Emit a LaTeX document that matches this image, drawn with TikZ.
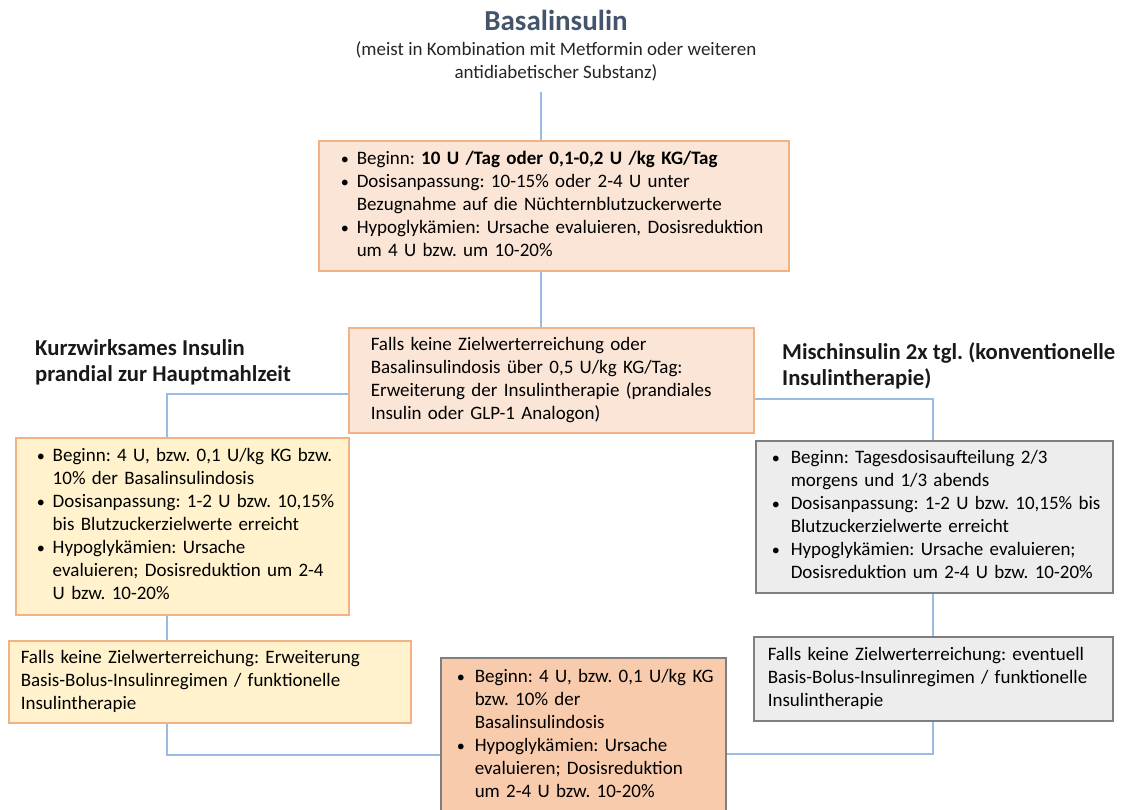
\documentclass[tikz,border=0pt]{standalone}
\usepackage{fontspec}
\setmainfont{Carlito}
\frenchspacing
\definecolor{conncol}{HTML}{9BBBE0}
\definecolor{peachfill}{HTML}{FBE5D6}
\definecolor{orangeline}{HTML}{F4B183}
\definecolor{yellowfill}{HTML}{FFF2CC}
\definecolor{grayfill}{HTML}{EDEDED}
\definecolor{grayline}{HTML}{7F7F7F}
\definecolor{darkfill}{HTML}{F8CBAD}
\definecolor{titlecol}{HTML}{44546A}
\newcommand{\bl}[1]{\makebox[#1][l]{\scalebox{0.85}{•}}}
\tikzset{
  conn/.style={draw=conncol, line width=1.4pt},
  boxbase/.style={rectangle, line width=1.5pt, anchor=north west, inner ysep=0pt,
    font=\fontsize{19}{23}\selectfont\frenchspacing, execute at begin node={\noindent}},
  peachbox/.style={boxbase, draw=orangeline, fill=peachfill},
  yellowbox/.style={boxbase, draw=orangeline, fill=yellowfill},
  graybox/.style={boxbase, draw=grayline, fill=grayfill},
  darkbox/.style={boxbase, draw=grayline, fill=darkfill},
  heading/.style={anchor=west, align=left, inner sep=0pt, font=\bfseries\fontsize{22.7}{26}\selectfont, text=black!90},
}
\begin{document}
\begin{tikzpicture}[x=1pt,y=-1pt]
\useasboundingbox (0,0) rectangle (1122,809);
% title
\node[inner sep=0pt, font=\bfseries\fontsize{29}{32}\selectfont, text=titlecol] (title) at (556,20) {Basalinsulin};
\node[inner sep=0pt, align=center, font=\fontsize{19}{23}\selectfont, text=black!85] (sub) at (556,61)
  {(meist in Kombination mit Metformin oder weiteren\\antidiabetischer Substanz)};
% box 1
\node[peachbox, minimum width=470pt, minimum height=130pt, inner xsep=22pt, text width=426pt] (box1) at (318,140)
 {\begin{tabular}{@{}l@{}l@{}}
  \bl{16pt}&Beginn: \textbf{10 U /Tag oder 0,1-0,2 U /kg KG/Tag}\\
  \bl{16pt}&Dosisanpassung: 10-15\% oder 2-4 U unter\\
  &Bezugnahme auf die Nüchternblutzuckerwerte\\
  \bl{16pt}&Hypoglykämien: Ursache evaluieren, Dosisreduktion\\
  &um 4 U bzw. um 10-20\%
 \end{tabular}};
% box 2
\node[peachbox, minimum width=405pt, minimum height=105pt, inner xsep=22pt, text width=361pt] (box2) at (348,327)
 {\begin{tabular}{@{}l@{}}
  Falls keine Zielwerterreichung oder\\
  Basalinsulindosis über 0,5 U/kg KG/Tag:\\
  Erweiterung der Insulintherapie (prandiales\\
  Insulin oder GLP-1 Analogon)
 \end{tabular}};
% headings
\node[heading] (hl) at (35,362) {Kurzwirksames Insulin\\prandial zur Hauptmahlzeit};
\node[heading] (hr) at (782,366) {Mischinsulin 2x tgl. (konventionelle\\Insulintherapie)};
% box 3
\node[yellowbox, minimum width=333pt, minimum height=177pt, inner xsep=21pt, text width=291pt] (box3) at (15,437)
 {\begin{tabular}{@{}l@{}l@{}}
  \bl{16pt}&Beginn: 4 U, bzw. 0,1 U/kg KG bzw.\\
  &10\% der Basalinsulindosis\\
  \bl{16pt}&Dosisanpassung: 1-2 U bzw. 10,15\%\\
  &bis Blutzuckerzielwerte erreicht\\
  \bl{16pt}&Hypoglykämien: Ursache\\
  &evaluieren; Dosisreduktion um 2-4\\
  &U bzw. 10-20\%
 \end{tabular}};
% box 5
\node[yellowbox, minimum width=402pt, minimum height=82pt, inner xsep=12pt, text width=378pt] (box5) at (8,640)
 {\begin{tabular}{@{}l@{}}
  Falls keine Zielwerterreichung: Erweiterung\\
  Basis-Bolus-Insulinregimen / funktionelle\\
  Insulintherapie
 \end{tabular}};
% box 4
\node[graybox, minimum width=357pt, minimum height=152pt, inner xsep=16pt, text width=325pt] (box4) at (755,440)
 {\begin{tabular}{@{}l@{}l@{}}
  \bl{19pt}&Beginn: Tagesdosisaufteilung 2/3\\
  &morgens und 1/3 abends\\
  \bl{19pt}&Dosisanpassung: 1-2 U bzw. 10,15\% bis\\
  &Blutzuckerzielwerte erreicht\\
  \bl{19pt}&Hypoglykämien: Ursache evaluieren;\\
  &Dosisreduktion um 2-4 U bzw. 10-20\%
 \end{tabular}};
% box 6
\node[graybox, minimum width=359pt, minimum height=84pt, inner xsep=14pt, text width=331pt] (box6) at (753,636)
 {\begin{tabular}{@{}l@{}}
  Falls keine Zielwerterreichung: eventuell\\
  Basis-Bolus-Insulinregimen / funktionelle\\
  Insulintherapie
 \end{tabular}};
% bottom box
\node[darkbox, minimum width=285pt, minimum height=192pt, inner xsep=16pt, text width=253pt] (bot) at (440,657)
 {\begin{tabular}{@{}l@{}l@{}}
  \bl{18pt}&Beginn: 4 U, bzw. 0,1 U/kg KG\\
  &bzw. 10\% der\\
  &Basalinsulindosis\\
  \bl{18pt}&Hypoglykämien: Ursache\\
  &evaluieren; Dosisreduktion\\
  &um 2-4 U bzw. 10-20\%\\
  &\rule{0pt}{30pt}
 \end{tabular}};
% connectors
\coordinate (t0) at (541,92);
\coordinate (l) at (167,394);
\coordinate (r) at (933,399);
\coordinate (lb) at (167,755);
\coordinate (rb) at (933,754);
\draw[conn] (t0) -- (t0 |- box1.north);
\draw[conn] (t0 |- box1.south) -- (t0 |- box2.north);
\draw[conn] (l -| box2.west) -- (l) -- (l |- box3.north);
\draw[conn] (r -| box2.east) -- (r) -- (r |- box4.north);
\draw[conn] (l |- box3.south) -- (l |- box5.north);
\draw[conn] (r |- box4.south) -- (r |- box6.north);
\draw[conn] (l |- box5.south) -- (lb) -- (lb -| bot.west);
\draw[conn] (r |- box6.south) -- (rb) -- (rb -| bot.east);
\end{tikzpicture}
\end{document}
